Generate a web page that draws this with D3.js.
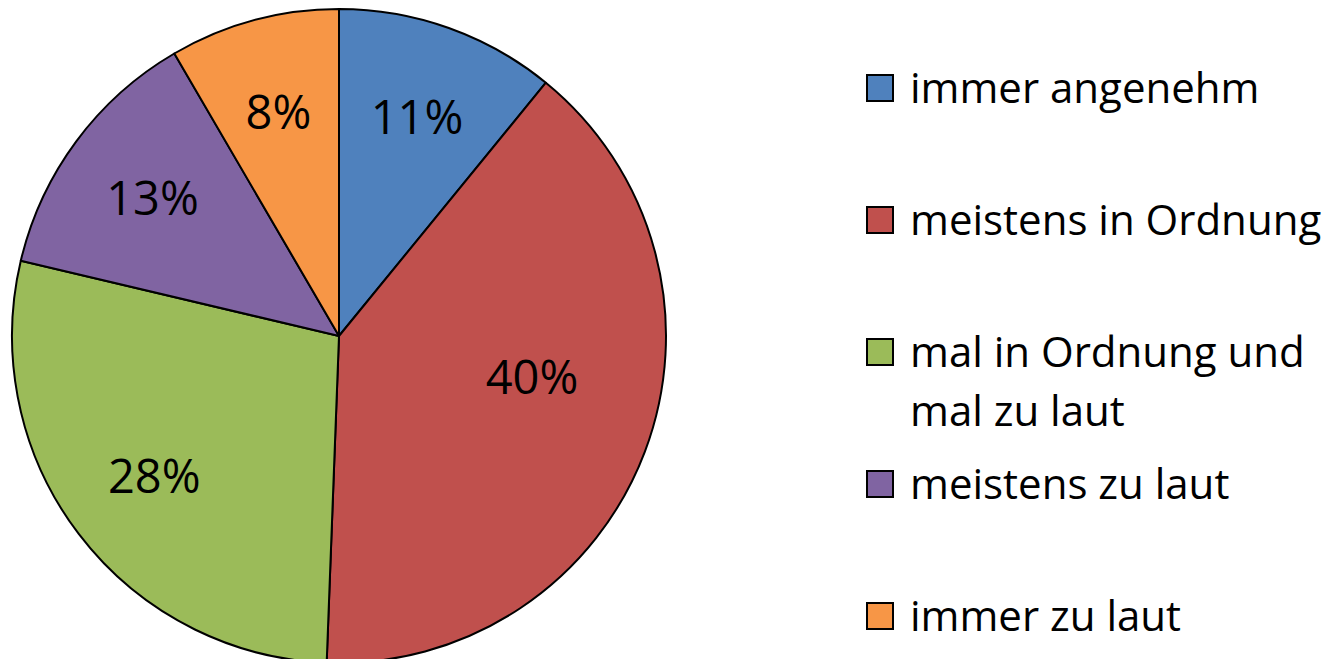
<!DOCTYPE html>
<html>
<head>
<meta charset="utf-8">
<script src="https://cdn.jsdelivr.net/npm/d3@7"></script>
<style>
  html, body { margin: 0; padding: 0; background: #fff; }
  svg text { font-family: "Open Sans", "Noto Sans", sans-serif; fill: #000; }
</style>
</head>
<body>
<div id="chart"></div>
<script>
// chart data
const categories = ["immer angenehm", "meistens in Ordnung", "mal in Ordnung und mal zu laut", "meistens zu laut", "immer zu laut"];
const legendLines = [["immer angenehm"], ["meistens in Ordnung"], ["mal in Ordnung und", "mal zu laut"], ["meistens zu laut"], ["immer zu laut"]];
const values = [10.9, 39.7, 28.1, 12.9, 8.4];
const colors = ["#4F81BD", "#C0504D", "#9BBB59", "#8064A2", "#F79646"];

const width = 1326;
const height = 659;
const cx = 339, cy = 336, radius = 327;

const svg = d3.select('#chart')
  .append('svg')
  .attr('width', width)
  .attr('height', height);

const pie = d3.pie().sort(null).value(d => d);
const arcs = pie(values);

const arc = d3.arc().innerRadius(0).outerRadius(radius);
const labelArc = d3.arc().innerRadius(radius * 0.71).outerRadius(radius * 0.71);

const g = svg.append('g').attr('transform', `translate(${cx},${cy})`);

// slices
g.selectAll('path')
  .data(arcs)
  .enter()
  .append('path')
  .attr('d', arc)
  .attr('fill', (d, i) => colors[i])
  .attr('stroke', '#000')
  .attr('stroke-width', 2)
  .attr('stroke-linejoin', 'round');

// Excel "best fit" pulls the big slice's label inward a bit
const labelNudge = { 1: { angle: -0.15, scale: 0.85 } };
const fmt = d3.format('.0%');

g.selectAll('text.pct')
  .data(arcs)
  .enter()
  .append('text')
  .attr('class', 'pct')
  .attr('transform', function (d, i) {
    let n = labelNudge[i];
    if (!n) return `translate(${labelArc.centroid(d)})`;
    let a = (d.startAngle + d.endAngle) / 2 + n.angle;
    let r = radius * 0.71 * n.scale;
    return `translate(${r * Math.sin(a)},${-r * Math.cos(a)})`;
  })
  .attr('text-anchor', 'middle')
  .attr('dy', '0.36em')
  .style('font-size', '47px')
  .text(d => fmt(d.data / 100));

// legend
const legendX = 867, legendTop = 75, legendStep = 132, box = 26;
const legend = svg.append('g')
  .selectAll('g')
  .data(categories)
  .enter()
  .append('g')
  .attr('transform', (d, i) => `translate(${legendX},${legendTop + i * legendStep})`);

legend.append('rect')
  .attr('width', box)
  .attr('height', box)
  .attr('fill', (d, i) => colors[i])
  .attr('stroke', '#000')
  .attr('stroke-width', 2);

legend.append('text')
  .attr('x', 43)
  .attr('y', 28)
  .style('font-size', '42px')
  .selectAll('tspan')
  .data((d, i) => legendLines[i])
  .enter()
  .append('tspan')
  .attr('x', 43)
  .attr('dy', (d, j) => j === 0 ? 0 : 59)
  .text(d => d);
</script>
</body>
</html>
